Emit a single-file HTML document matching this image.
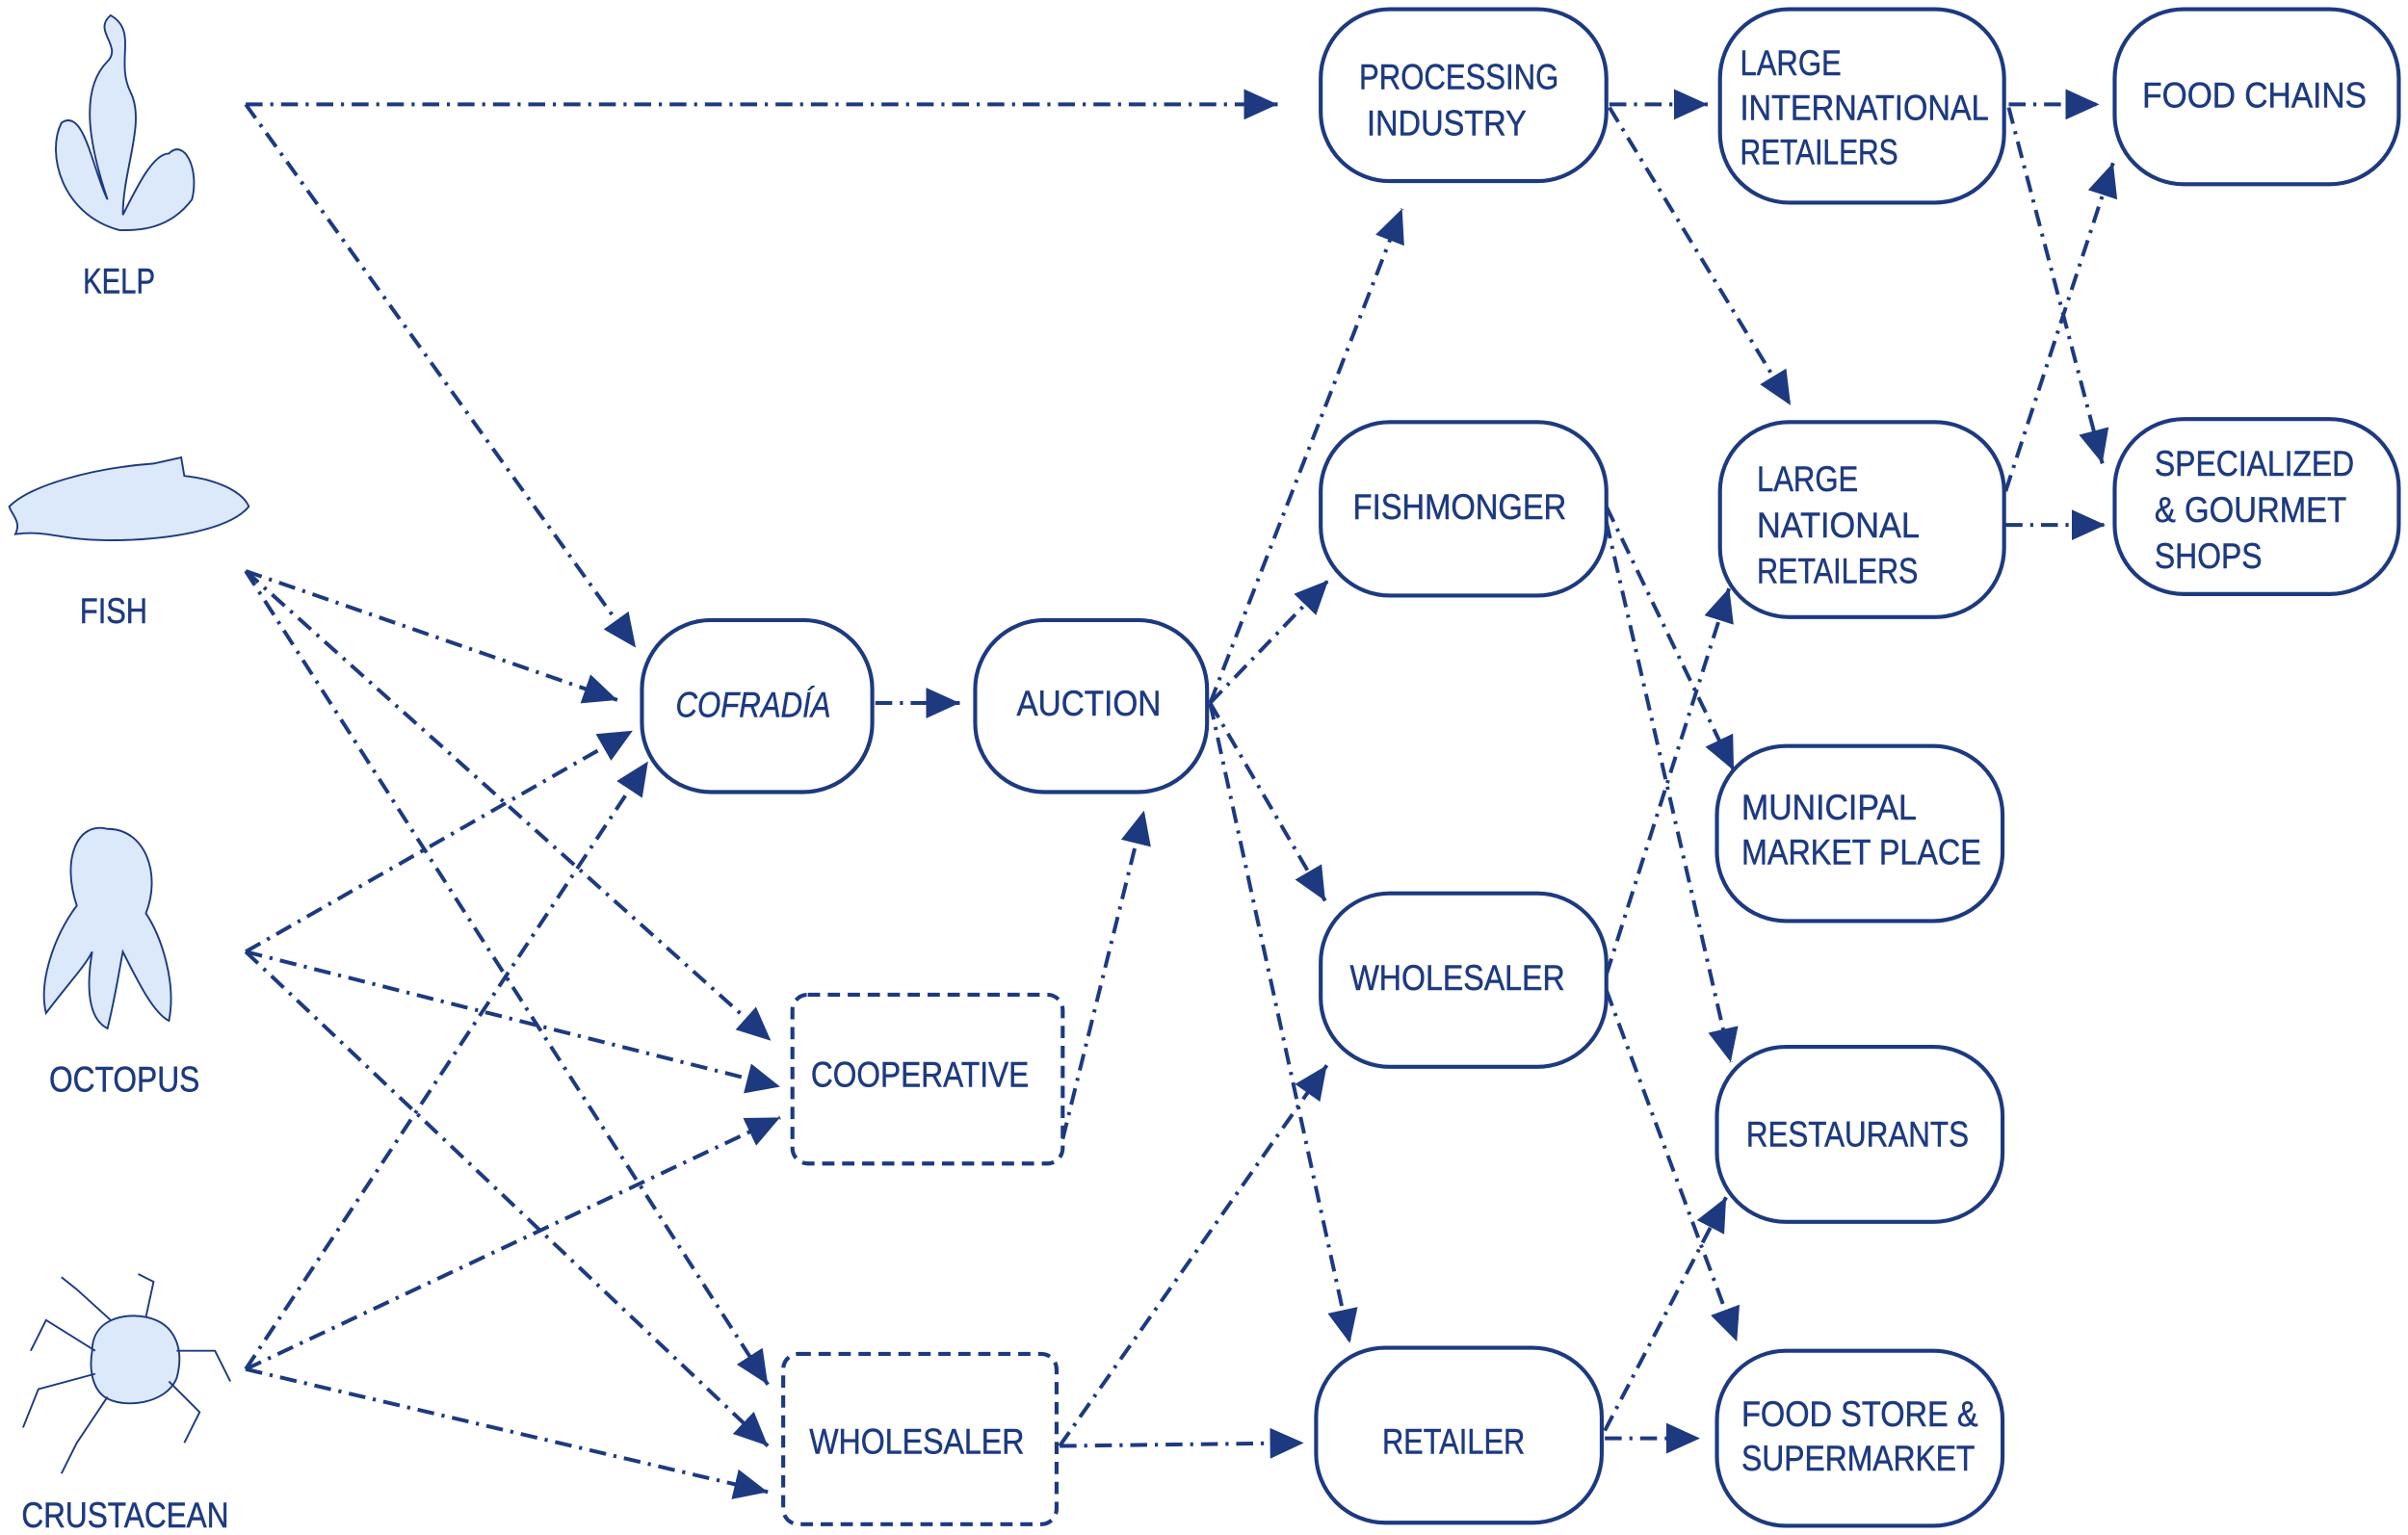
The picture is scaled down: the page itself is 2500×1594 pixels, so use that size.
<!DOCTYPE html>
<html><head><meta charset="utf-8"><style>
html,body{margin:0;padding:0;background:#fff;}
svg{display:block;}
text{font-family:"Liberation Sans",sans-serif;fill:#1d3a80;font-size:23px;stroke:#1d3a80;stroke-width:0.3;}
</style></head><body>
<svg width="2500" height="1594" viewBox="0 0 1568 1000" preserveAspectRatio="none" xmlns="http://www.w3.org/2000/svg">
<defs>
<marker id="a" markerUnits="userSpaceOnUse" markerWidth="24" markerHeight="20" refX="22" refY="10" orient="auto">
<path d="M0,0 L22,10 L0,20 Z" fill="#1d3a80"/>
</marker>
</defs>
<g fill="none" stroke="#1d3a80" stroke-width="2.6">
<rect x="860" y="6" width="186" height="112" rx="45"/>
<rect x="1120" y="6" width="185" height="126" rx="45"/>
<rect x="1377" y="6" width="185" height="114" rx="45"/>
<rect x="860" y="275" width="186" height="113" rx="45"/>
<rect x="1120" y="275" width="185" height="127" rx="45"/>
<rect x="1377" y="273" width="185" height="114" rx="45"/>
<rect x="418" y="404" width="150" height="112" rx="45"/>
<rect x="635" y="404" width="151" height="112" rx="45"/>
<rect x="1118" y="486" width="186" height="114" rx="45"/>
<rect x="860" y="582" width="186" height="113" rx="45"/>
<rect x="1118" y="682" width="186" height="114" rx="45"/>
<rect x="857" y="878" width="186" height="114" rx="45"/>
<rect x="1118" y="880" width="186" height="114" rx="45"/>
<rect x="516" y="648" width="176" height="110" rx="10" stroke-dasharray="8 5"/>
<rect x="510" y="882" width="178" height="111" rx="10" stroke-dasharray="8 5"/>
</g>
<g fill="none" stroke="#1d3a80" stroke-width="2.5" stroke-dasharray="11 5 2 5" marker-end="url(#a)">
<line x1="160" y1="68" x2="832" y2="68"/>
<line x1="160" y1="68" x2="414" y2="422"/>
<line x1="160" y1="372" x2="402" y2="456"/>
<line x1="160" y1="372" x2="502" y2="678"/>
<line x1="160" y1="372" x2="500" y2="902"/>
<line x1="160" y1="620" x2="412" y2="476"/>
<line x1="160" y1="620" x2="508" y2="708"/>
<line x1="160" y1="620" x2="500" y2="942"/>
<line x1="160" y1="892" x2="422" y2="496"/>
<line x1="160" y1="892" x2="508" y2="728"/>
<line x1="160" y1="892" x2="500" y2="972"/>
<line x1="570" y1="458" x2="625" y2="458"/>
<line x1="692" y1="742" x2="745" y2="528"/>
<line x1="788" y1="458" x2="913" y2="136"/>
<line x1="788" y1="458" x2="865" y2="378"/>
<line x1="788" y1="458" x2="863" y2="587"/>
<line x1="788" y1="458" x2="879" y2="875"/>
<line x1="690" y1="942" x2="864" y2="694"/>
<line x1="690" y1="942" x2="849" y2="940"/>
<line x1="1048" y1="68" x2="1112" y2="68"/>
<line x1="1048" y1="70" x2="1166" y2="264"/>
<line x1="1308" y1="68" x2="1367" y2="68"/>
<line x1="1308" y1="70" x2="1369" y2="302"/>
<line x1="1306" y1="320" x2="1376" y2="106"/>
<line x1="1306" y1="342" x2="1371" y2="342"/>
<line x1="1046" y1="330" x2="1129" y2="502"/>
<line x1="1046" y1="340" x2="1127" y2="692"/>
<line x1="1046" y1="635" x2="1126" y2="383"/>
<line x1="1046" y1="645" x2="1131" y2="874"/>
<line x1="1045" y1="932" x2="1124" y2="780"/>
<line x1="1045" y1="937" x2="1107" y2="937"/>
</g>
<g fill="#dbe9fb" stroke="#1d3a80" stroke-width="1.2">
<path d="M78,150 C40,140 30,100 40,80 C55,70 60,110 70,130 C60,100 50,60 70,40 C80,30 60,20 72,10 C90,20 75,40 85,60 C95,80 80,110 80,140 C90,120 100,100 110,100 C120,90 130,110 125,130 C110,150 90,150 78,150Z"/>
<path d="M6,330 C20,316 60,305 100,302 L118,298 L120,310 C140,312 158,320 162,330 C150,345 110,352 70,352 C40,352 30,345 10,348 C14,340 8,336 6,330Z"/>
<path d="M70,540 C50,535 40,560 50,590 C35,610 25,640 30,660 C45,640 55,630 60,620 C55,650 60,665 70,670 C75,650 78,630 80,620 C90,640 100,660 110,665 C115,640 105,610 95,595 C105,570 95,540 70,540Z"/>
<path d="M60,880 C60,860 80,855 95,858 C115,862 120,880 115,898 C108,915 80,918 68,910 C60,904 58,892 60,880Z"/>
<path d="M62,880 L30,860 L20,880 M62,895 L25,905 L15,930 M70,910 L50,940 L40,960 M110,900 L130,920 L120,940 M115,880 L140,880 L150,900 M95,858 L100,835 L90,830 M72,860 L50,840 L40,832" fill="none"/>
</g>
<g lengthAdjust="spacingAndGlyphs">
<text x="54" y="191" textLength="47" lengthAdjust="spacingAndGlyphs">KELP</text>
<text x="52" y="406" textLength="44" lengthAdjust="spacingAndGlyphs">FISH</text>
<text x="32" y="711" textLength="98" lengthAdjust="spacingAndGlyphs">OCTOPUS</text>
<text x="14" y="995" textLength="135" lengthAdjust="spacingAndGlyphs">CRUSTACEAN</text>
<text x="885" y="58" textLength="130" lengthAdjust="spacingAndGlyphs">PROCESSING</text>
<text x="890" y="88" textLength="104" lengthAdjust="spacingAndGlyphs">INDUSTRY</text>
<text x="1133" y="49" textLength="66" lengthAdjust="spacingAndGlyphs">LARGE</text>
<text x="1133" y="78" textLength="162" lengthAdjust="spacingAndGlyphs">INTERNATIONAL</text>
<text x="1133" y="107" textLength="103" lengthAdjust="spacingAndGlyphs">RETAILERS</text>
<text x="1395" y="70" textLength="146" lengthAdjust="spacingAndGlyphs">FOOD CHAINS</text>
<text x="881" y="338" textLength="139" lengthAdjust="spacingAndGlyphs">FISHMONGER</text>
<text x="1144" y="320" textLength="66" lengthAdjust="spacingAndGlyphs">LARGE</text>
<text x="1144" y="350" textLength="106" lengthAdjust="spacingAndGlyphs">NATIONAL</text>
<text x="1144" y="380" textLength="105" lengthAdjust="spacingAndGlyphs">RETAILERS</text>
<text x="1403" y="310" textLength="130" lengthAdjust="spacingAndGlyphs">SPECIALIZED</text>
<text x="1403" y="340" textLength="125" lengthAdjust="spacingAndGlyphs">&amp; GOURMET</text>
<text x="1403" y="370" textLength="70" lengthAdjust="spacingAndGlyphs">SHOPS</text>
<text x="440" y="467" textLength="101" lengthAdjust="spacingAndGlyphs" font-style="italic">COFRADÍA</text>
<text x="662" y="466" textLength="94" lengthAdjust="spacingAndGlyphs">AUCTION</text>
<text x="1134" y="534" textLength="114" lengthAdjust="spacingAndGlyphs">MUNICIPAL</text>
<text x="1134" y="563" textLength="156" lengthAdjust="spacingAndGlyphs">MARKET PLACE</text>
<text x="879" y="645" textLength="140" lengthAdjust="spacingAndGlyphs">WHOLESALER</text>
<text x="1137" y="747" textLength="145" lengthAdjust="spacingAndGlyphs">RESTAURANTS</text>
<text x="528" y="708" textLength="142" lengthAdjust="spacingAndGlyphs">COOPERATIVE</text>
<text x="527" y="947" textLength="140" lengthAdjust="spacingAndGlyphs">WHOLESALER</text>
<text x="900" y="947" textLength="93" lengthAdjust="spacingAndGlyphs">RETAILER</text>
<text x="1134" y="929" textLength="154" lengthAdjust="spacingAndGlyphs">FOOD STORE &amp;</text>
<text x="1134" y="958" textLength="152" lengthAdjust="spacingAndGlyphs">SUPERMARKET</text>
</g>
</svg>
</body></html>
